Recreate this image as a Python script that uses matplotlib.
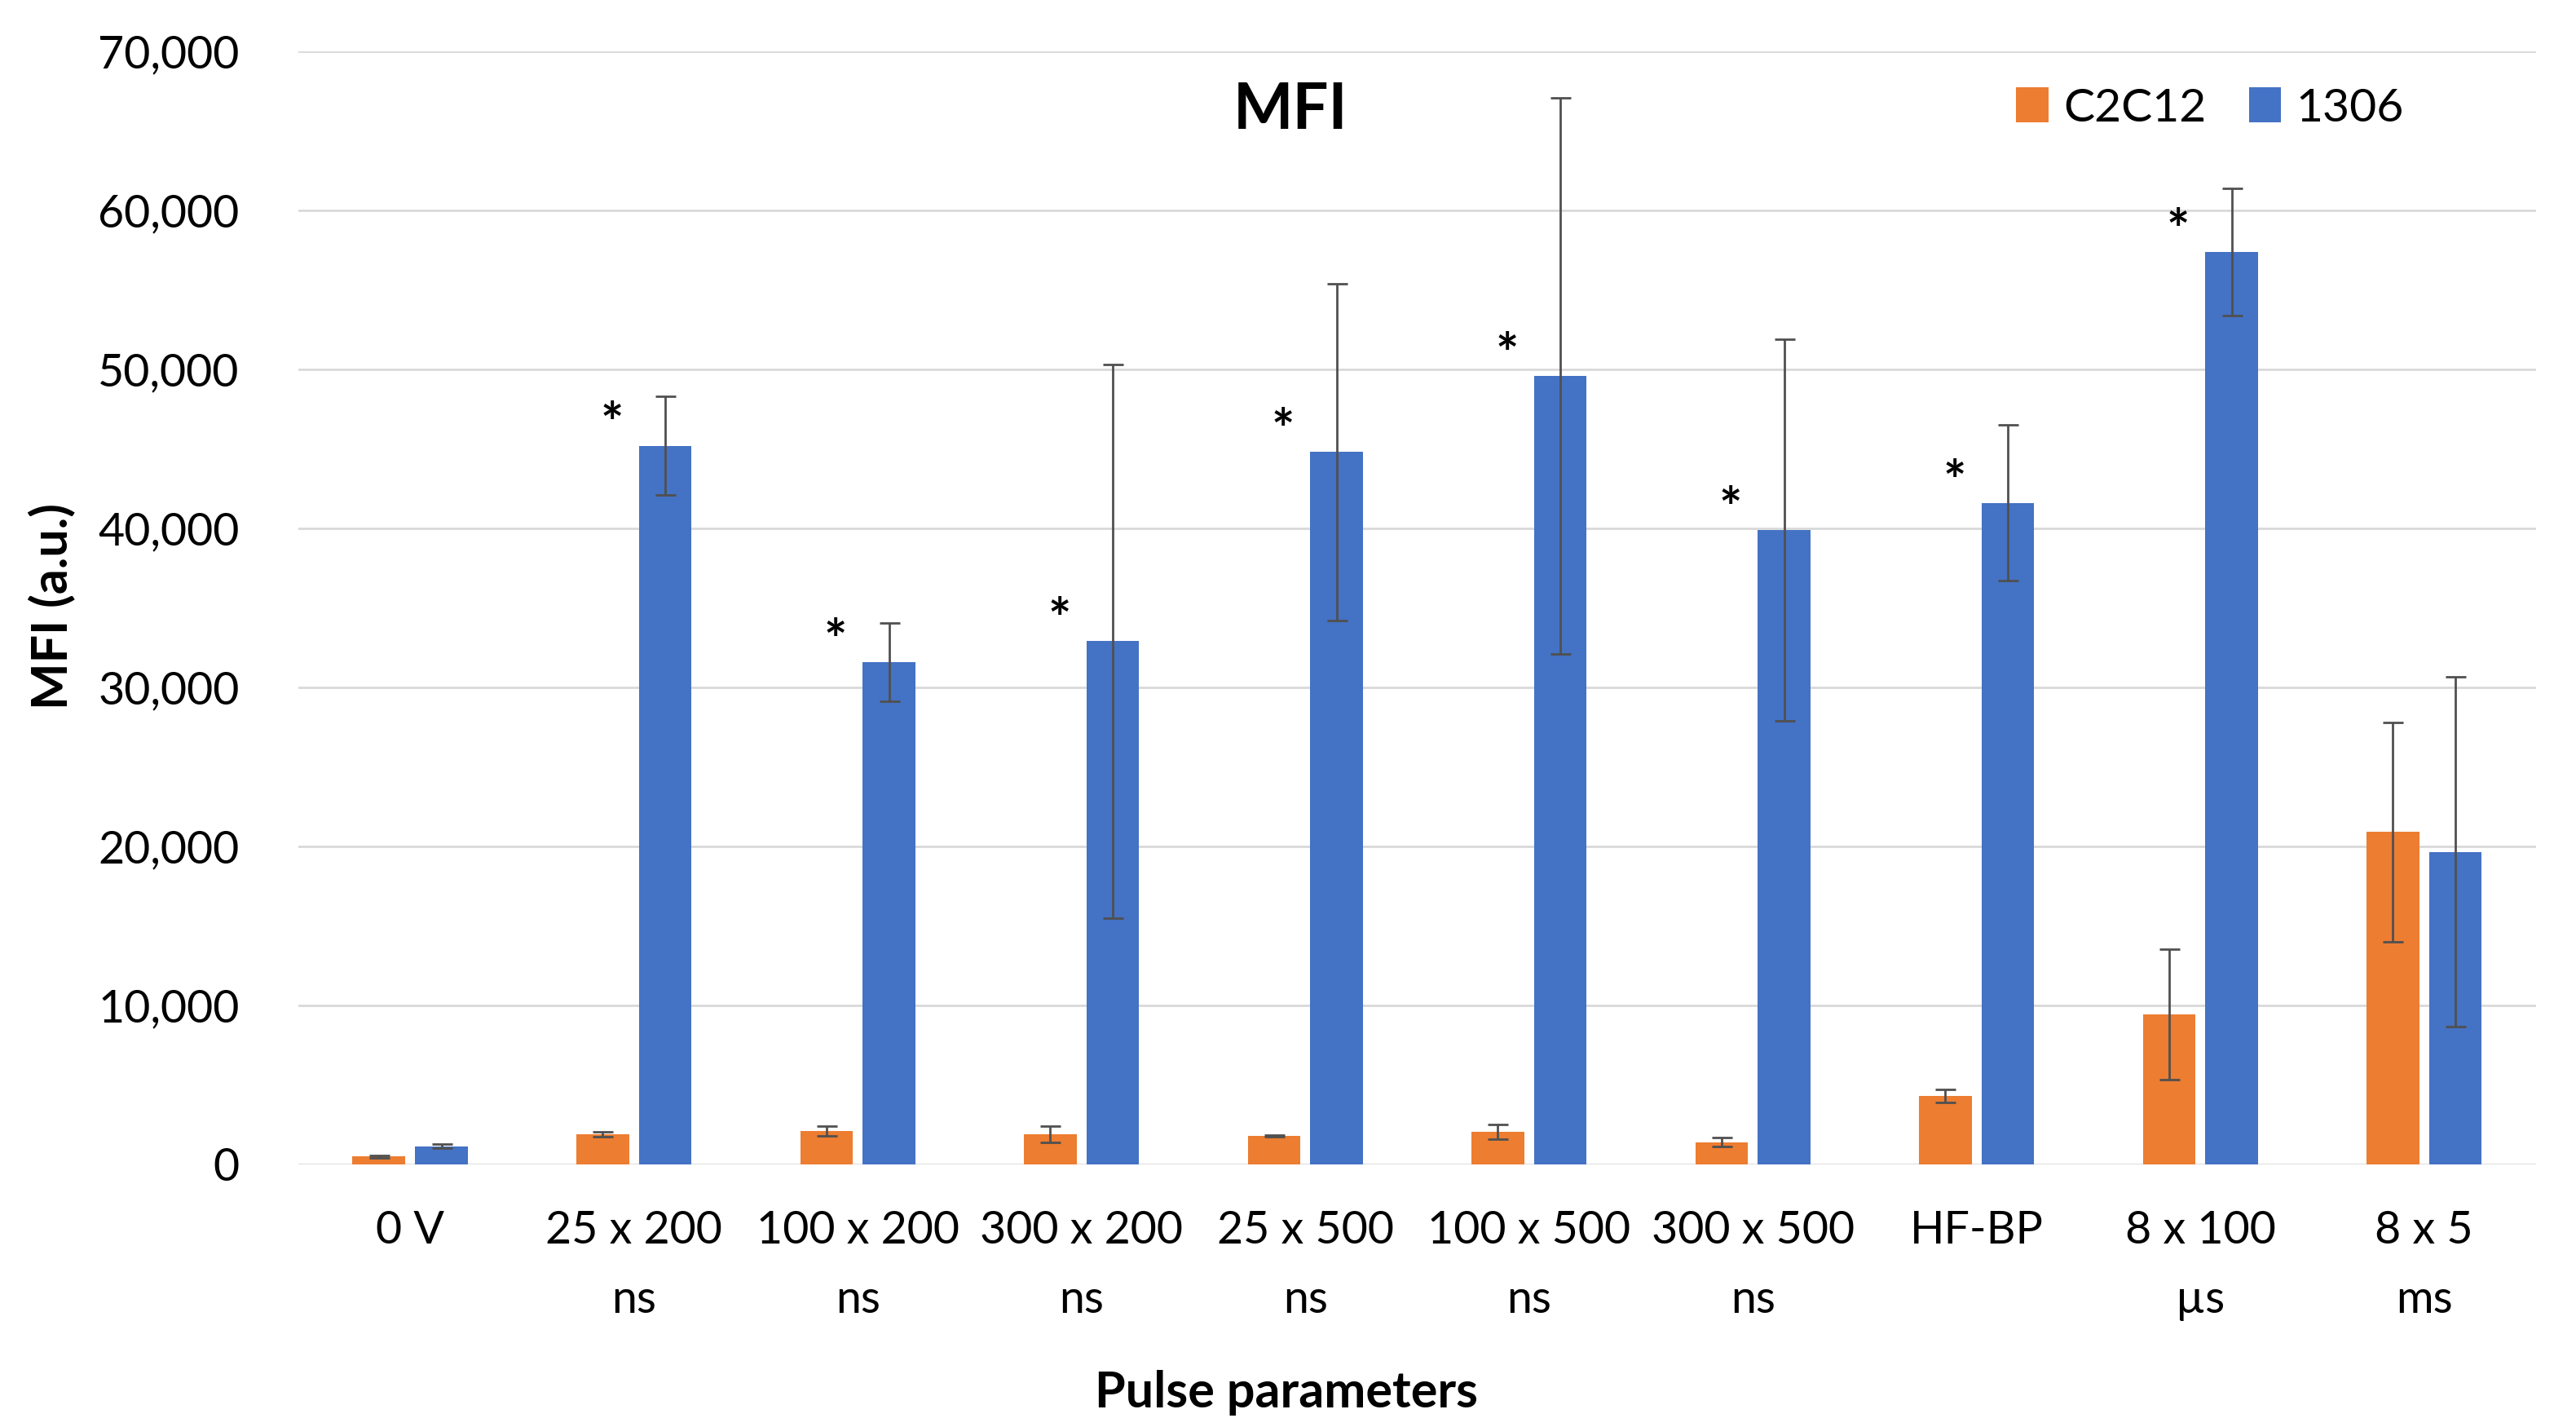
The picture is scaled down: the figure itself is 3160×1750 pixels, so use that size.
import matplotlib
matplotlib.use("Agg")
import matplotlib.pyplot as plt
import numpy as np

categories = ["0 V", "25 x 200\nns", "100 x 200\nns", "300 x 200\nns", "25 x 500\nns",
              "100 x 500\nns", "300 x 500\nns", "HF-BP", "8 x 100\nµs", "8 x 5\nms"]
c2c12 = [500, 1900, 2100, 1900, 1790, 2050, 1400, 4300, 9450, 20900]
c2c12_err = [80, 150, 330, 500, 60, 480, 270, 400, 4100, 6900]
h1306 = [1150, 45200, 31600, 32900, 44800, 49600, 39900, 41600, 57400, 19650]
h1306_err = [130, 3100, 2450, 17400, 10600, 17500, 12000, 4900, 4000, 11000]
significant = [False, True, True, True, True, True, True, True, True, False]
yticks = [0, 10000, 20000, 30000, 40000, 50000, 60000, 70000]

plt.rcParams['font.family'] = ['Lato', 'DejaVu Sans']

fig = plt.figure(figsize=(15.8, 8.75), dpi=200)
ax = fig.add_axes([0.1158, 0.184, 0.8687, 0.780])

x = np.arange(len(categories))
w = 0.235
off = 0.14
orange = "#ED7D31"
blue = "#4472C4"
ecol = "#505050"

ax.bar(x - off, c2c12, w, color=orange, label="C2C12", zorder=3,
       yerr=c2c12_err, error_kw=dict(ecolor=ecol, elinewidth=1.0, capsize=4.5, capthick=1.0, zorder=4))
ax.bar(x + off, h1306, w, color=blue, label="1306", zorder=3,
       yerr=h1306_err, error_kw=dict(ecolor=ecol, elinewidth=1.0, capsize=4.5, capthick=1.0, zorder=4))

for i, s in enumerate(significant):
    if s:
        ax.annotate("*", (x[i] - 0.1, h1306[i]), xytext=(0, 1.5), textcoords="offset points",
                    ha="center", va="baseline", fontsize=24, fontweight="bold", zorder=5)

ax.set_xlim(-0.5, len(categories) - 0.5)
ax.set_ylim(0, 70000)
ax.set_yticks(yticks)
ax.set_yticklabels([f"{v:,}" for v in yticks])
ax.set_xticks(x)
ax.set_xticklabels(categories, linespacing=1.84)
ax.tick_params(axis="y", length=0, pad=26, labelsize=20)
ax.tick_params(axis="x", length=0, pad=20, labelsize=20)
ax.grid(axis="y", color="#D9D9D9", linewidth=1.0, zorder=0)
for sp in ax.spines.values():
    sp.set_visible(False)

fig.text(0.020, 0.575, "MFI (a.u.)", rotation=90, ha="center", va="center",
         fontsize=22, fontweight="bold")
fig.text(0.4995, 0.024, "Pulse parameters", ha="center", va="center",
         fontsize=22, fontweight="bold")
fig.text(0.501, 0.922, "MFI", ha="center", va="center", fontsize=28, fontweight="bold")

leg = fig.legend(loc="center", bbox_to_anchor=(0.858, 0.924), ncol=2, frameon=False,
                 fontsize=20.5, handlelength=0.69, handleheight=0.78, handletextpad=0.32,
                 columnspacing=0.93)

fig.savefig("out.png", dpi=200)
